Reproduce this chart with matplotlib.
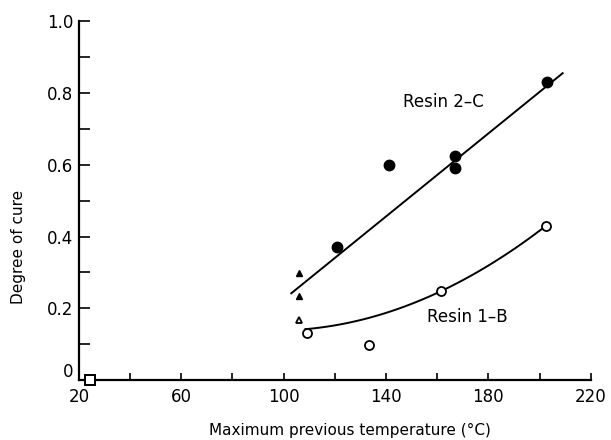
import numpy as np
import matplotlib
matplotlib.use("Agg")
import matplotlib.pyplot as plt
import matplotlib.transforms as mtransforms

plt.rcParams['font.family'] = ['DejaVu Sans']

# Resin 2-C measurements
resin2c_T = [121, 141, 167, 167, 203]
resin2c_cure = [0.37, 0.60, 0.625, 0.59, 0.83]
# Resin 2-C fitted line end points
resin2c_fit_T = [103, 209]
resin2c_fit_cure = [0.242, 0.855]

# Triangles near 106 C
tri_filled_T = [106, 106]
tri_filled_cure = [0.298, 0.234]
tri_open_T = [106]
tri_open_cure = [0.167]

# Resin 1-B measurements
resin1b_T = [109, 133.5, 161.5, 202.5]
resin1b_cure = [0.131, 0.098, 0.248, 0.429]
# Resin 1-B smooth curve anchors
resin1b_curve_T = [108.5, 161.5, 202.5]
resin1b_curve_cure = [0.142, 0.248, 0.43]

# Uncured reference
square_T = [24.5]
square_cure = [0.0]

x_major = [20, 60, 100, 140, 180, 220]
x_minor = [40, 80, 120, 160, 200]
y_major = [0, 0.2, 0.4, 0.6, 0.8, 1.0]
y_major_labels = ['0', '0.2', '0.4', '0.6', '0.8', '1.0']
y_minor = [0.1, 0.3, 0.5, 0.7, 0.9]

fig = plt.figure(figsize=(6.11, 4.40), dpi=100)
ax = fig.add_axes([0.129, 0.136, 0.838, 0.816])

lw = 1.4
ax.plot(resin2c_fit_T, resin2c_fit_cure, color='black', lw=lw)
coef = np.polyfit(resin1b_curve_T, resin1b_curve_cure, 2)
tt = np.linspace(resin1b_curve_T[0], resin1b_curve_T[-1], 100)
ax.plot(tt, np.polyval(coef, tt), color='black', lw=lw)

ax.plot(resin2c_T, resin2c_cure, 'o', color='black', ms=7.5)
ax.plot(tri_filled_T, tri_filled_cure, '^', color='black', ms=5)
ax.plot(tri_open_T, tri_open_cure, '^', mfc='white', mec='black', mew=1.3, ms=5)
ax.plot(resin1b_T, resin1b_cure, 'o', mfc='white', mec='black', mew=1.3, ms=6.5)
ax.plot(square_T, square_cure, 's', mfc='white', mec='black', mew=1.4, ms=6.5,
        clip_on=False, zorder=5)

ax.text(0.633, 0.774, 'Resin 2\u2013C', transform=ax.transAxes, fontsize=12,
        va='center', ha='left')
ax.text(0.68, 0.175, 'Resin 1\u2013B', transform=ax.transAxes, fontsize=12,
        va='center', ha='left')

ax.set_xlim(20, 220)
ax.set_ylim(0, 1.0)
ax.set_xticks(x_major)
ax.set_xticks(x_minor, minor=True)
ax.set_yticks(y_major)
ax.set_yticklabels(y_major_labels)
ax.set_yticks(y_minor, minor=True)

for s in ['top', 'right']:
    ax.spines[s].set_visible(False)
for s in ['left', 'bottom']:
    ax.spines[s].set_linewidth(1.6)

ax.tick_params(axis='both', which='both', direction='in', width=1.2, labelsize=12)
ax.tick_params(axis='y', which='both', length=8, pad=4)
ax.tick_params(axis='x', which='both', length=5, pad=6)

# lift the "0" label on the y axis so it sits clear of the "20" below it
zero_lbl = ax.get_yticklabels()[0]
zero_lbl.set_transform(zero_lbl.get_transform() +
                       mtransforms.ScaledTranslation(0, 7 / 72, fig.dpi_scale_trans))

ax.set_xlabel('Maximum previous temperature (\u00b0C)', fontsize=11)
ax.set_ylabel('Degree of cure', fontsize=11)
ax.xaxis.set_label_coords(0.53, -0.118)
ax.yaxis.set_label_coords(-0.103, 0.37)

fig.savefig('out.png', dpi=100)
